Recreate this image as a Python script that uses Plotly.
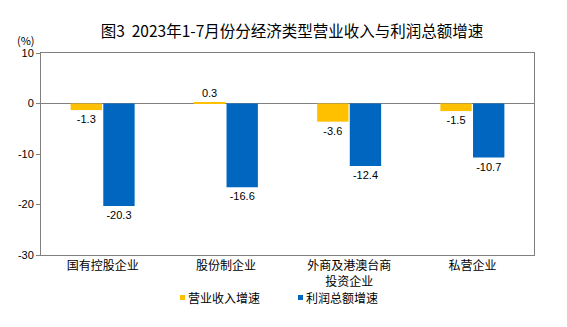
import plotly.graph_objects as go

categories = ["国有控股企业", "股份制企业", "外商及港澳台商<br>投资企业", "私营企业"]
revenue_growth = [-1.3, 0.3, -3.6, -1.5]
profit_growth = [-20.3, -16.6, -12.4, -10.7]
series_names = ["营业收入增速", "利润总额增速"]
series_colors = ["#FFC000", "#0066C0"]
tick_vals = [10, 0, -10, -20, -30]

font_family = "Noto Sans CJK SC, Liberation Sans, Arial, sans-serif"
num_font = "Liberation Sans, Arial, sans-serif"

fig = go.Figure()
for name, vals, col in zip(series_names, [revenue_growth, profit_growth], series_colors):
    fig.add_trace(go.Bar(
        x=categories, y=vals, name=name,
        marker=dict(color=col, line=dict(width=0)),
        text=[f"{v:.1f}" for v in vals], textposition="outside",
        textfont=dict(family=num_font, size=11, color="#000"), cliponaxis=False,
    ))

# manual legend (small square markers + labels) placed in the bottom margin
L, R, T, B = 41, 534, 53, 255
W, H = R - L, B - T
def px(x):
    return (x - L) / W
def py(y):
    return (B - y) / H

shapes = []
annotations = [dict(text="(%)", xref="paper", yref="paper", x=px(15), y=py(40.5),
                    xanchor="left", yanchor="middle", showarrow=False,
                    font=dict(family=font_family, size=11, color="#000"))]
for (sx, tx), name, col in zip([(180, 186), (298, 304)], series_names, series_colors):
    shapes.append(dict(type="rect", xref="paper", yref="paper",
                       x0=px(sx), x1=px(sx + 5), y0=py(300), y1=py(295),
                       fillcolor=col, line=dict(width=0)))
    annotations.append(dict(text=name, xref="paper", yref="paper", x=px(tx), y=py(297.5),
                            xanchor="left", yanchor="middle", showarrow=False,
                            font=dict(family=font_family, size=12, color="#000")))

fig.update_layout(
    width=567, height=327,
    margin=dict(l=L, r=567 - R, t=T, b=327 - B),
    paper_bgcolor="white", plot_bgcolor="white",
    barmode="group", bargap=0.47, bargroupgap=0.04,
    title=dict(text="图3  2023年1-7月份分经济类型营业收入与利润总额增速",
               x=292 / 567, xref="container", xanchor="center",
               y=1 - 32 / 327, yref="container", yanchor="middle",
               font=dict(family=font_family, size=15.5, color="#000")),
    font=dict(family=font_family, size=12, color="#000"),
    showlegend=False,
    xaxis=dict(showline=True, linecolor="#808080", linewidth=1, mirror=True,
               ticks="", tickfont=dict(family=font_family, size=12, color="#000"),
               showgrid=False, automargin=False),
    yaxis=dict(range=[-30, 10], tickvals=tick_vals, ticktext=[str(v) for v in tick_vals],
               showline=True, linecolor="#808080", linewidth=1, mirror=True,
               ticks="outside", ticklen=4, tickcolor="#808080",
               tickfont=dict(family=num_font, size=11, color="#000"),
               showgrid=False, zeroline=True, zerolinecolor="#808080", zerolinewidth=1,
               automargin=False),
    shapes=shapes,
    annotations=annotations,
)

fig.write_html("out.html")
